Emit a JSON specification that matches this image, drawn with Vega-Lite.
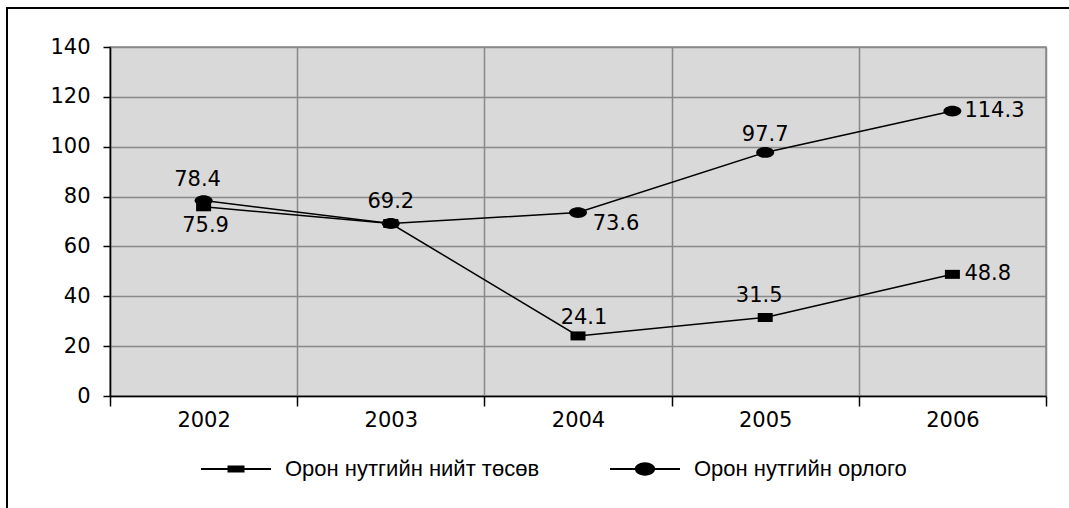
{
  "$schema": "https://vega.github.io/schema/vega-lite/v6.json",
  "width": 936,
  "height": 349,
  "autosize": {"type": "none"},
  "padding": {"left": 110, "top": 47, "right": 23, "bottom": 112},
  "background": "white",
  "data": {
    "values": [
      {"year": "2002", "series": "Орон нутгийн нийт төсөв", "value": 75.9},
      {"year": "2003", "series": "Орон нутгийн нийт төсөв", "value": 69.2},
      {"year": "2004", "series": "Орон нутгийн нийт төсөв", "value": 24.1},
      {"year": "2005", "series": "Орон нутгийн нийт төсөв", "value": 31.5},
      {"year": "2006", "series": "Орон нутгийн нийт төсөв", "value": 48.8},
      {"year": "2002", "series": "Орон нутгийн орлого", "value": 78.4},
      {"year": "2003", "series": "Орон нутгийн орлого", "value": 69.2},
      {"year": "2004", "series": "Орон нутгийн орлого", "value": 73.6},
      {"year": "2005", "series": "Орон нутгийн орлого", "value": 97.7},
      {"year": "2006", "series": "Орон нутгийн орлого", "value": 114.3}
    ]
  },
  "encoding": {
    "x": {
      "field": "year", "type": "ordinal", "title": null,
      "scale": {"type": "band", "paddingInner": 0, "paddingOuter": 0},
      "axis": {
        "tickBand": "extent", "labelAngle": 0, "grid": true,
        "gridColor": "#898989", "gridWidth": 1.5,
        "domainColor": "black", "domainWidth": 1.5,
        "tickColor": "black", "tickWidth": 1.5, "tickSize": 10,
        "labelFont": "DejaVu Sans", "labelFontSize": 21, "labelColor": "black",
        "labelPadding": 3
      }
    },
    "y": {
      "field": "value", "type": "quantitative", "title": null,
      "scale": {"domain": [0, 140], "nice": false},
      "axis": {
        "values": [0, 20, 40, 60, 80, 100, 120, 140],
        "grid": true, "gridColor": "#898989", "gridWidth": 1.5,
        "domainColor": "black", "domainWidth": 1.5,
        "tickColor": "black", "tickWidth": 1.5, "tickSize": 7,
        "labelFont": "DejaVu Sans", "labelFontSize": 21, "labelColor": "black",
        "labelPadding": 13
      }
    }
  },
  "layer": [
    {
      "mark": {"type": "line", "color": "black", "strokeWidth": 1.5},
      "encoding": {"detail": {"field": "series"}}
    },
    {
      "transform": [{"filter": "datum.series == 'Орон нутгийн нийт төсөв'"}],
      "mark": {"type": "point", "filled": true, "fill": "black", "opacity": 1, "strokeWidth": 0, "size": 225,
               "shape": "M-1,-0.6H1V0.6H-1Z"}
    },
    {
      "transform": [{"filter": "datum.series == 'Орон нутгийн орлого'"}],
      "mark": {"type": "point", "filled": true, "fill": "black", "opacity": 1, "strokeWidth": 0, "size": 324,
               "shape": "M-1,0A1,0.6 0 1,1 1,0A1,0.6 0 1,1 -1,0Z"}
    },
    {
      "transform": [{"filter": "false"}],
      "mark": {"type": "point", "filled": true, "color": "black", "opacity": 1},
      "encoding": {
        "shape": {
          "field": "series", "type": "nominal",
          "scale": {
            "domain": ["Орон нутгийн нийт төсөв", "Орон нутгийн орлого"],
            "range": [
              "M-1,-0.024H0.667V0.024H-1ZM-0.369,-0.083H0.036V0.083H-0.369Z",
              "M-1,-0.024H0.667V0.024H-1ZM-0.409,0A0.242,0.158 0 1,1 0.075,0A0.242,0.158 0 1,1 -0.409,0Z"
            ]
          },
          "legend": {
            "title": " ", "titleFontSize": 10, "titlePadding": 215, "titleOrient": "top",
            "orient": "none", "direction": "horizontal", "gridAlign": "all",
            "legendX": -103, "legendY": -39,
            "padding": 193, "strokeColor": "black",
            "symbolSize": 7056, "symbolFillColor": "black",
            "labelFont": "Liberation Sans", "labelFontSize": 22, "labelColor": "black", "labelLimit": 0,
            "labelOffset": -1, "columnPadding": 67
          }
        }
      }
    },
    {
      "transform": [{"filter": "datum.series == 'Орон нутгийн орлого' && datum.year == '2003'"}],
      "mark": {"type": "text", "font": "DejaVu Sans", "fontSize": 21, "color": "black", "baseline": "middle", "dy": -21},
      "encoding": {"text": {"field": "value", "format": ".1f"}}
    },
    {
      "transform": [{"filter": "datum.series == 'Орон нутгийн орлого' && datum.year == '2005'"}],
      "mark": {"type": "text", "font": "DejaVu Sans", "fontSize": 21, "color": "black", "baseline": "middle", "dy": -17},
      "encoding": {"text": {"field": "value", "format": ".1f"}}
    },
    {
      "transform": [{"filter": "(datum.series == 'Орон нутгийн орлого' && datum.year == '2002') || (datum.series == 'Орон нутгийн нийт төсөв' && datum.year == '2005')"}],
      "mark": {"type": "text", "font": "DejaVu Sans", "fontSize": 21, "color": "black", "baseline": "middle", "dx": -6, "dy": -21},
      "encoding": {"text": {"field": "value", "format": ".1f"}}
    },
    {
      "transform": [{"filter": "datum.series == 'Орон нутгийн нийт төсөв' && datum.year == '2004'"}],
      "mark": {"type": "text", "font": "DejaVu Sans", "fontSize": 21, "color": "black", "baseline": "middle", "dx": 6, "dy": -18},
      "encoding": {"text": {"field": "value", "format": ".1f"}}
    },
    {
      "transform": [{"filter": "datum.series == 'Орон нутгийн нийт төсөв' && datum.year == '2002'"}],
      "mark": {"type": "text", "font": "DejaVu Sans", "fontSize": 21, "color": "black", "baseline": "middle", "dx": 2, "dy": 19},
      "encoding": {"text": {"field": "value", "format": ".1f"}}
    },
    {
      "transform": [{"filter": "datum.series == 'Орон нутгийн орлого' && datum.year == '2004'"}],
      "mark": {"type": "text", "font": "DejaVu Sans", "fontSize": 21, "color": "black", "baseline": "middle", "dx": 38, "dy": 11},
      "encoding": {"text": {"field": "value", "format": ".1f"}}
    },
    {
      "transform": [{"filter": "datum.year == '2006'"}],
      "mark": {"type": "text", "font": "DejaVu Sans", "fontSize": 21, "color": "black", "baseline": "middle", "align": "left", "dx": 12, "dy": 0},
      "encoding": {"text": {"field": "value", "format": ".1f"}}
    }
  ],
  "config": {
    "view": {"fill": "#D9D9D9", "stroke": "#898989", "strokeWidth": 1.5},
    "legend": {"strokeWidth": 2, "strokeDash": [1064, 1200, 2000]}
  }
}
